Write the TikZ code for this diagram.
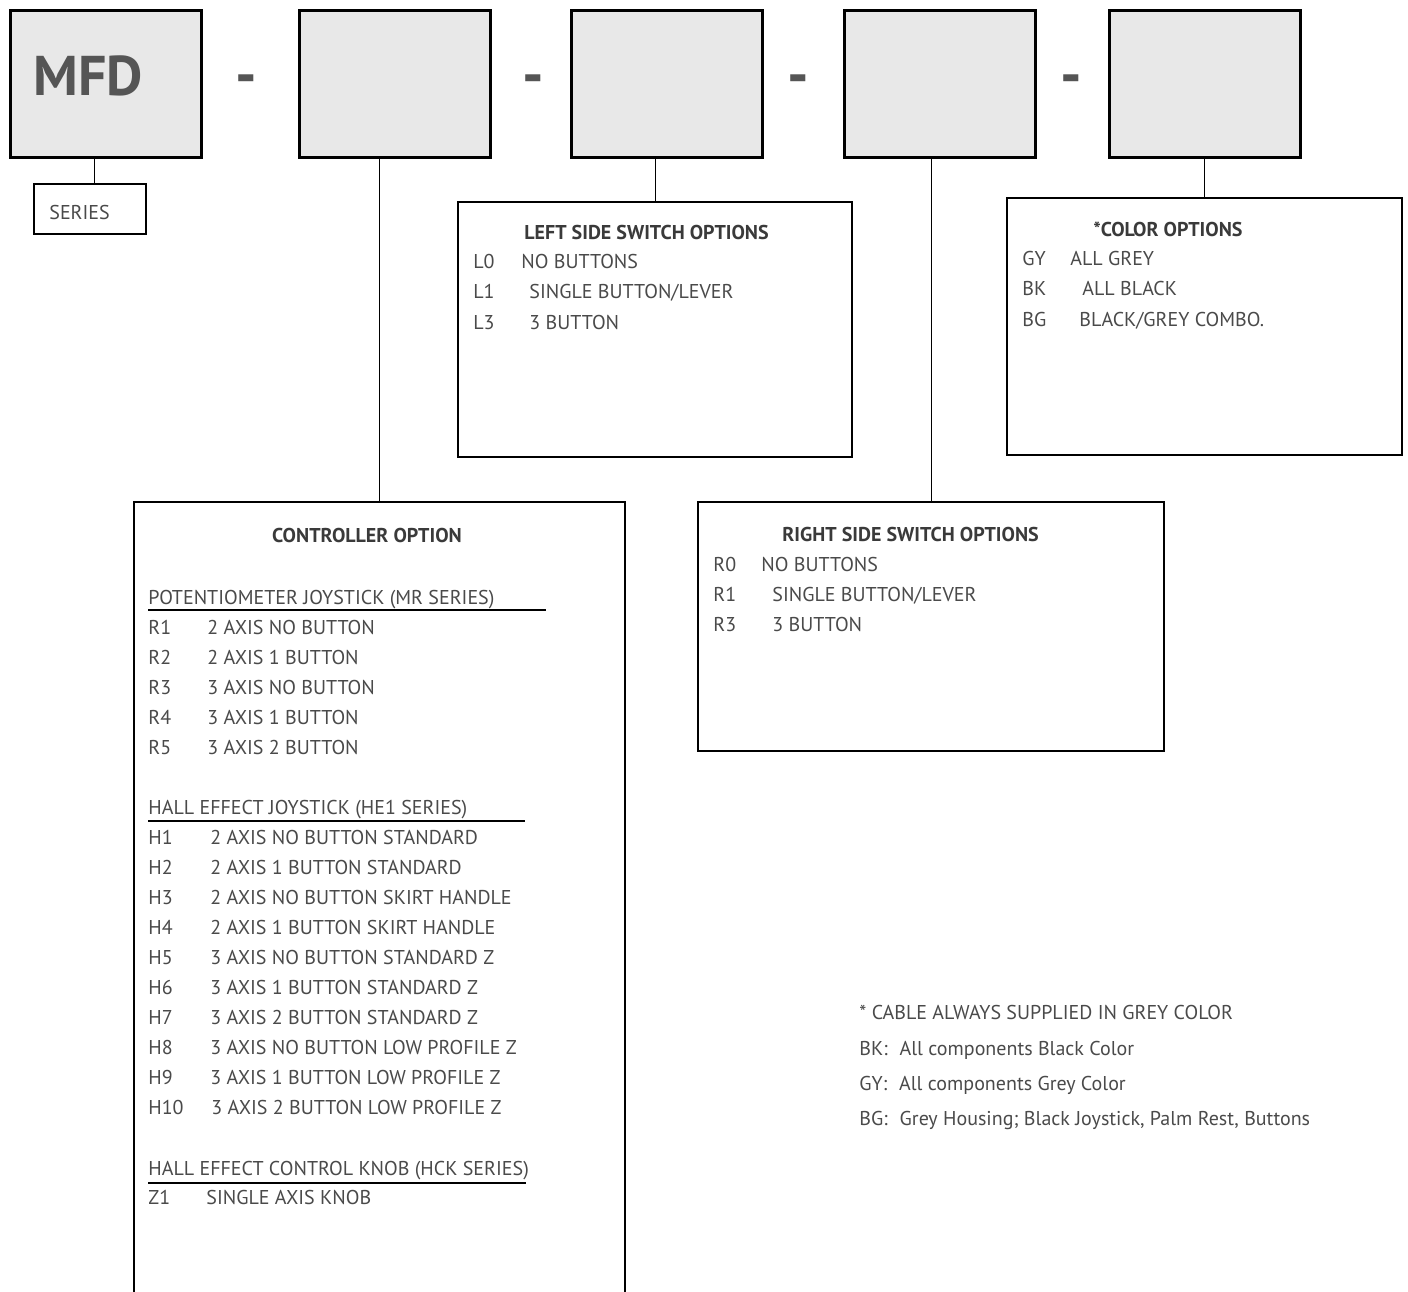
\documentclass[tikz,border=0pt]{standalone}
\usepackage{fontspec}
\setmainfont{PT Sans}
\definecolor{boxfill}{HTML}{E8E8E8}
\definecolor{txt}{HTML}{4A4A4A}
\definecolor{ttl}{HTML}{3A3A3A}
\definecolor{big}{HTML}{555555}
\tikzset{
  codebox/.style={draw=black, line width=1.5pt, fill=boxfill, inner sep=0pt, outer sep=0pt, minimum width=95.5pt, minimum height=73.5pt},
  optbox/.style={draw=black, line width=0.7pt, fill=white, inner sep=0pt, outer sep=0pt},
  link/.style={draw=black, line width=0.5pt},
  uline/.style={draw=black, line width=0.7pt},
  t/.style={anchor=base west, inner sep=0pt, text=txt, font=\fontsize{10}{12}\selectfont},
  ttl/.style={anchor=base west, inner sep=0pt, text=ttl, font=\bfseries\fontsize{10}{12}\selectfont},
  dashtxt/.style={inner sep=0pt, text=big, font=\bfseries\fontsize{30}{32}\selectfont},
}
\begin{document}
\begin{tikzpicture}[x=0.5pt,y=-0.5pt]
\useasboundingbox (0,0) rectangle (1408,1291);
\clip (0,0) rectangle (1408,1291);
% top code boxes
\node[codebox] (b1) at (105.5,83.5) {};
\node[codebox] (b2) at (394.5,83.5) {};
\node[codebox] (b3) at (667,83.5) {};
\node[codebox] (b4) at (940,83.5) {};
\node[codebox] (b5) at (1204.5,83.5) {};
\node[inner sep=0pt, text=big, font=\bfseries\fontsize{28}{32}\selectfont] (mfd) at (88,76) {MFD};
\node[dashtxt] (d1) at (246,85) {-};
\node[dashtxt] (d2) at (533.5,85) {-};
\node[dashtxt] (d3) at (798.5,85) {-};
\node[dashtxt] (d4) at (1071,85) {-};
% option boxes
\node[optbox, minimum width=56pt, minimum height=25pt] (series) at (90,209) {};
\node[optbox, minimum width=197pt, minimum height=127.5pt] (left) at (655,329.5) {};
\node[optbox, minimum width=197.5pt, minimum height=128.5pt] (color) at (1204.5,326.5) {};
\node[optbox, minimum width=233pt, minimum height=124.5pt] (right) at (931,626.5) {};
\node[optbox, minimum width=245.5pt, minimum height=409pt] (ctrl) at (379.5,911) {};
% connectors
\draw[link] ([xshift=2pt]series.north) -- ([xshift=2pt]series.north |- b1.south);
\draw[link] (ctrl.north) -- (ctrl.north |- b2.south);
\draw[link] (left.north) -- (left.north |- b3.south);
\draw[link] (right.north) -- (right.north |- b4.south);
\draw[link] (color.north) -- (color.north |- b5.south);
% series
\node[t] (seriest) at (49,219) {SERIES};
% left side
\node[ttl] (lt) at (524,239) {LEFT SIDE SWITCH OPTIONS};
\node[t] (l0) at (473,268) {L0}; \node[t] (l0d) at (521,268) {NO BUTTONS};
\node[t] (l1) at (473,298) {L1}; \node[t] (l1d) at (529,298) {SINGLE BUTTON/LEVER};
\node[t] (l3) at (473,329) {L3}; \node[t] (l3d) at (529,329) {3 BUTTON};
% color
\node[ttl] (ct) at (1093,236) {*COLOR OPTIONS};
\node[t] (gy) at (1022,265) {GY}; \node[t] (gyd) at (1070,265) {ALL GREY};
\node[t] (bk) at (1022,295) {BK}; \node[t] (bkd) at (1082,295) {ALL BLACK};
\node[t] (bg) at (1022,326) {BG}; \node[t] (bgd) at (1079,326) {BLACK/GREY COMBO.};
% right side
\node[ttl] (rt) at (782,541) {RIGHT SIDE SWITCH OPTIONS};
\node[t] (r0) at (713,571) {R0}; \node[t] (r0d) at (761,571) {NO BUTTONS};
\node[t] (r1s) at (713,601) {R1}; \node[t] (r1sd) at (772,601) {SINGLE BUTTON/LEVER};
\node[t] (r3s) at (713,631) {R3}; \node[t] (r3sd) at (772,631) {3 BUTTON};
% controller
\node[ttl, anchor=base] (ctt) at (367,542) {CONTROLLER OPTION};
\node[t] (pot) at (148,604) {POTENTIOMETER JOYSTICK (MR SERIES)};
\draw[uline] (148,610) -- (546,610);
\node[t] (r1) at (148,634) {R1}; \node[t] (r1d) at (207,634) {2 AXIS NO BUTTON};
\node[t] (r2) at (148,664) {R2}; \node[t] (r2d) at (207,664) {2 AXIS 1 BUTTON};
\node[t] (r3) at (148,694) {R3}; \node[t] (r3d) at (207,694) {3 AXIS NO BUTTON};
\node[t] (r4) at (148,724) {R4}; \node[t] (r4d) at (207,724) {3 AXIS 1 BUTTON};
\node[t] (r5) at (148,754) {R5}; \node[t] (r5d) at (207,754) {3 AXIS 2 BUTTON};
\node[t] (hall) at (148,814) {HALL EFFECT JOYSTICK (HE1 SERIES)};
\draw[uline] (148,821) -- (525,821);
\node[t] (h1) at (148,844) {H1}; \node[t] (h1d) at (210,844) {2 AXIS NO BUTTON STANDARD};
\node[t] (h2) at (148,874) {H2}; \node[t] (h2d) at (210,874) {2 AXIS 1 BUTTON STANDARD};
\node[t] (h3) at (148,904) {H3}; \node[t] (h3d) at (210,904) {2 AXIS NO BUTTON SKIRT HANDLE};
\node[t] (h4) at (148,934) {H4}; \node[t] (h4d) at (210,934) {2 AXIS 1 BUTTON SKIRT HANDLE};
\node[t] (h5) at (148,964) {H5}; \node[t] (h5d) at (210,964) {3 AXIS NO BUTTON STANDARD Z};
\node[t] (h6) at (148,994) {H6}; \node[t] (h6d) at (210,994) {3 AXIS 1 BUTTON STANDARD Z};
\node[t] (h7) at (148,1024) {H7}; \node[t] (h7d) at (210,1024) {3 AXIS 2 BUTTON STANDARD Z};
\node[t] (h8) at (148,1054) {H8}; \node[t] (h8d) at (210,1054) {3 AXIS NO BUTTON LOW PROFILE Z};
\node[t] (h9) at (148,1084) {H9}; \node[t] (h9d) at (210,1084) {3 AXIS 1 BUTTON LOW PROFILE Z};
\node[t] (h10) at (148,1114) {H10}; \node[t] (h10d) at (211,1114) {3 AXIS 2 BUTTON LOW PROFILE Z};
\node[t] (hck) at (148,1175) {HALL EFFECT CONTROL KNOB (HCK SERIES)};
\draw[uline] (148,1183) -- (526,1183);
\node[t] (z1) at (148,1204) {Z1}; \node[t] (z1d) at (206,1204) {SINGLE AXIS KNOB};
% notes
\node[t] (n1) at (859,1019) {* CABLE ALWAYS SUPPLIED IN GREY COLOR};
\node[t] (n2) at (859,1055) {BK:\hspace{6pt}All components Black Color};
\node[t] (n3) at (859,1090) {GY:\hspace{6pt}All components Grey Color};
\node[t] (n4) at (859,1125) {BG:\hspace{6pt}Grey Housing; Black Joystick, Palm Rest, Buttons};
\end{tikzpicture}
\end{document}
